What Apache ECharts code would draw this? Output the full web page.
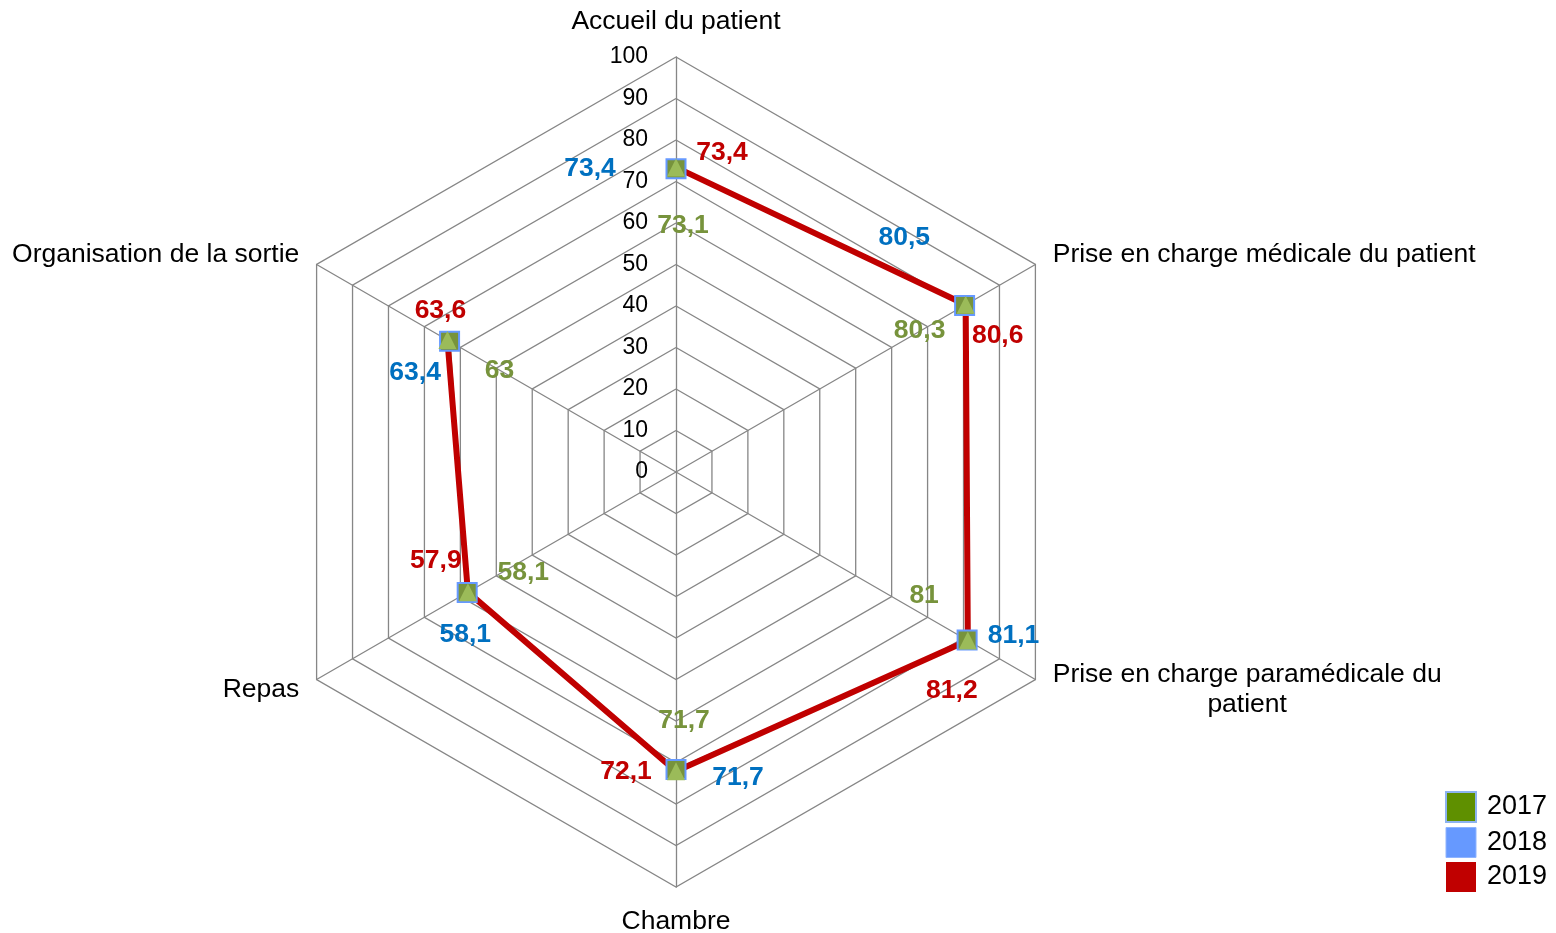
<!DOCTYPE html>
<html><head><meta charset="utf-8">
<script src="https://cdn.jsdelivr.net/npm/echarts@6/dist/echarts.min.js"></script>
<style>html,body{margin:0;padding:0;background:#fff}#c{width:1556px;height:933px}</style>
</head><body><div id="c"></div>
<script>
const categories = ['Accueil du patient', 'Prise en charge médicale du patient', 'Prise en charge paramédicale du patient', 'Chambre', 'Repas', 'Organisation de la sortie'];
const years = ['2017', '2018', '2019'];
const values2017 = [73.1, 80.3, 81, 71.7, 58.1, 63];
const values2018 = [73.4, 80.5, 81.1, 71.7, 58.1, 63.4];
const values2019 = [73.4, 80.6, 81.2, 72.1, 57.9, 63.6];
const radiusMin = 0, radiusMax = 100, radiusStep = 10;

// label placement (pixel offsets from each point), layout only
const offsets2017 = [[7, 57], [-45, 25], [-43, -44], [8, -49], [56, -20], [50, 29]];
const offsets2018 = [[-86, 1], [-61, -67], [46, -5], [62, 8], [-2, 42], [-33, 32]];
const offsets2019 = [[46, -15], [32, 31], [-16, 50], [-50, 0], [-32, -31], [-7, -29]];

const FONT = 'Liberation Sans, Arial, sans-serif';
const CENTER = [676, 472], RADIUS = 415;

function buildData(vals, offs, color) {
  const d = vals.map((v, i) => ({
    value: [v, categories[i]],
    label: { show: true, position: 'inside', offset: offs[i], color: color }
  }));
  d.push({ value: [vals[0], categories[0]], symbol: 'none', label: { show: false } });
  return d;
}
const labelBase = {
  show: true, fontSize: 26.5, fontWeight: 'bold', fontFamily: FONT,
  formatter: p => String(p.value[0]).replace('.', ',')
};

// radar goes counter-clockwise from the top
const radarOrder = [0, 5, 4, 3, 2, 1];
const sideStyle = { verticalAlign: 'middle' };
const indicators = radarOrder.map(i => {
  const ind = { name: categories[i], min: radiusMin, max: radiusMax };
  if (i !== 0 && i !== 3) ind.nameTextStyle = sideStyle;
  return ind;
});

const chart = echarts.init(document.getElementById('c'), null, { renderer: 'canvas' });
chart.setOption({
  animation: false,
  backgroundColor: '#fff',
  radar: {
    center: CENTER, radius: RADIUS, startAngle: 90, splitNumber: 10, shape: 'polygon',
    indicator: indicators,
    nameGap: 20,
    axisName: {
      color: '#000', fontSize: 26.5, fontFamily: FONT, lineHeight: 30,
      formatter: n => n === categories[2] ? 'Prise en charge paramédicale du\n{b|patient}' : n,
      rich: { b: { align: 'center', fontSize: 26.5, fontFamily: FONT, color: '#000', lineHeight: 30 } }
    },
    axisLine: { lineStyle: { color: '#868686', width: 1.3 } },
    splitLine: { lineStyle: { color: '#868686', width: 1.3 } },
    splitArea: { show: false },
    axisTick: { show: false },
    axisLabel: { show: false }
  },
  polar: { center: CENTER, radius: RADIUS },
  angleAxis: {
    type: 'category', data: categories, startAngle: 90, clockwise: true, boundaryGap: false,
    axisLine: { show: false }, axisTick: { show: false }, axisLabel: { show: false }, splitLine: { show: false }
  },
  radiusAxis: {
    type: 'value', min: radiusMin, max: radiusMax, interval: radiusStep,
    axisLine: { show: false }, axisTick: { show: false }, splitLine: { show: false },
    axisLabel: { color: '#000', fontSize: 23, fontFamily: FONT, margin: 28 }
  },
  legend: {
    orient: 'vertical', left: 1440, top: 786, itemWidth: 30, itemHeight: 30, itemGap: 4,
    icon: 'rect',
    textStyle: { fontSize: 27, color: '#000', fontFamily: FONT, padding: [8, 0, 0, 6] },
    data: [
      { name: years[0], itemStyle: { color: '#5F9000', borderColor: '#8DB3F0', borderWidth: 2 } },
      { name: years[1], itemStyle: { color: '#6699FF', borderColor: '#8FB4FF', borderWidth: 1 } },
      { name: years[2], itemStyle: { color: '#C00000', borderWidth: 0 } }
    ]
  },
  series: [
    {
      name: years[0], type: 'line', coordinateSystem: 'polar',
      data: buildData(values2017, offsets2017, '#77933C'),
      symbol: 'rect', symbolSize: 19,
      itemStyle: { color: '#77933C', borderColor: '#6699FF', borderWidth: 2 },
      lineStyle: { color: '#77933C', width: 2 },
      label: labelBase, emphasis: { disabled: true }
    },
    {
      name: years[1], type: 'line', coordinateSystem: 'polar',
      data: buildData(values2018, offsets2018, '#0070C0'),
      symbol: 'rect', symbolSize: 1,
      itemStyle: { color: '#6699FF' },
      lineStyle: { color: '#6699FF', width: 2.5 },
      label: labelBase, emphasis: { disabled: true }
    },
    {
      name: years[2], type: 'line', coordinateSystem: 'polar',
      data: buildData(values2019, offsets2019, '#C00000'),
      symbol: 'triangle', symbolSize: 18,
      itemStyle: { color: '#9BBB59' },
      lineStyle: { color: '#C00000', width: 6 },
      label: labelBase, emphasis: { disabled: true }
    }
  ]
});
</script>
</body></html>
